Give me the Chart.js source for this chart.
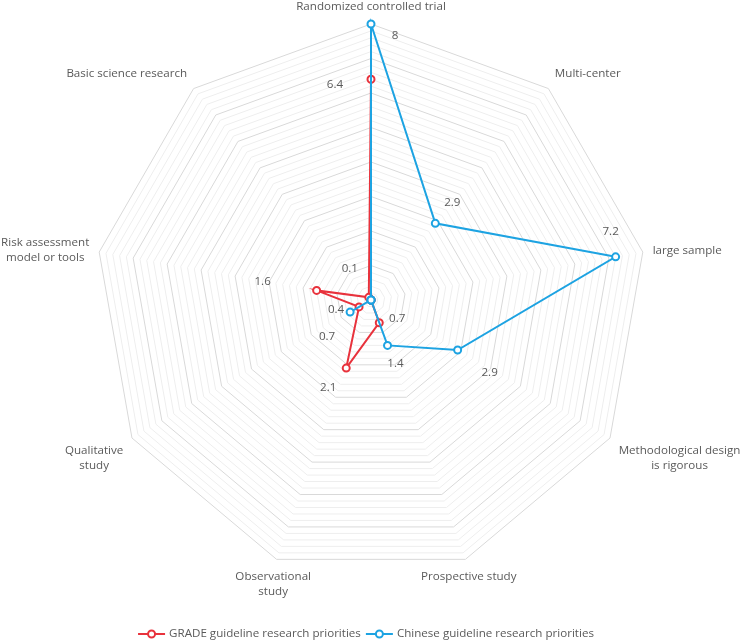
<!DOCTYPE html>
<html>
<head>
<meta charset="utf-8">
<script src="https://cdn.jsdelivr.net/npm/chart.js@4.4.0/dist/chart.umd.min.js"></script>
<style>
  html, body { margin: 0; padding: 0; background: #fff; }
</style>
</head>
<body>
<canvas id="myChart" width="750" height="642"></canvas>
<script>
// Axis names, clockwise from the top (one entry per line of text)
const categories = [
  ["Randomized controlled trial"],
  ["Multi-center"],
  ["large sample"],
  ["Methodological design", "is rigorous"],
  ["Prospective study"],
  ["Observational", "study"],
  ["Qualitative", "study"],
  ["Risk assessment", "model or tools"],
  ["Basic science research"]
];
const seriesNames = ["GRADE guideline research priorities", "Chinese guideline research priorities"];
const gradeValues = [6.4, 0, 0, 0, 0.7, 2.1, 0.4, 1.6, 0.1];
const chineseValues = [8, 2.9, 7.2, 2.9, 1.4, 0, 0.7, 0, 0];
const scaleMax = 8;
const scaleStep = 0.2;

// which points get a number next to them: [series, axis]
const labelledPoints = [
  [1, 0], [0, 0], [1, 1], [1, 2], [1, 3], [1, 4],
  [0, 4], [0, 5], [1, 6], [0, 6], [0, 7], [0, 8]
];
// where the number sits relative to its point (px)
const labelOffsets = [
  [24, 12], [-36, 5], [17, -21], [-5, -25], [32, 23], [8, 18],
  [18, -4], [-18, 20], [-23, 25], [-23, 3], [-54, -9], [-19, -29]
];

const RED = '#e8323c';
const BLUE = '#1da3e2';
const TEXT = '#5a5a5a';
const FONT = '11.6px "Open Sans", "Noto Sans", sans-serif';

// -----===== axis names around the web =====-----
const axisLabels = {
  id: 'axisLabels',
  afterDraw(chart) {
    const scale = chart.scales.r;
    const ctx = chart.ctx;
    const lineH = 15;
    ctx.save();
    ctx.font = FONT;
    ctx.fillStyle = TEXT;
    ctx.textAlign = 'center';
    ctx.textBaseline = 'middle';
    categories.forEach((lines, i) => {
      const angle = scale.getIndexAngle(i);
      const p = scale.getPointPosition(i, scale.drawingArea + 10);
      const sin = Math.sin(angle), cos = Math.cos(angle);
      const w = Math.max(...lines.map(l => ctx.measureText(l).width));
      const h = lines.length * lineH;
      let cx = p.x;
      if (Math.abs(sin) >= 0.4) cx = sin > 0 ? p.x + w / 2 : p.x - w / 2;
      let top = p.y;
      if (Math.abs(cos) < 0.3) top = p.y - h / 2;
      else if (cos > 0) top = p.y - h;
      lines.forEach((l, k) => ctx.fillText(l, cx, top + lineH * (k + 0.5)));
    });
    ctx.restore();
  }
};

// -----===== numbers beside the points =====-----
const valueLabels = {
  id: 'valueLabels',
  afterDatasetsDraw(chart) {
    const ctx = chart.ctx;
    ctx.save();
    ctx.font = FONT;
    ctx.fillStyle = TEXT;
    ctx.textAlign = 'center';
    ctx.textBaseline = 'middle';
    labelledPoints.forEach(([ds, idx], k) => {
      const pt = chart.getDatasetMeta(ds).data[idx];
      const value = chart.data.datasets[ds].data[idx];
      ctx.fillText(String(value), pt.x + labelOffsets[k][0], pt.y + labelOffsets[k][1]);
    });
    ctx.restore();
  }
};

// -----===== legend: line with a hollow circle =====-----
const lineLegend = {
  id: 'lineLegend',
  afterDraw(chart) {
    const ctx = chart.ctx;
    const markW = 27, gapIn = 4, gapOut = 5;
    ctx.save();
    ctx.font = FONT;
    const items = chart.data.datasets.map(ds => ({
      text: ds.label, color: ds.borderColor, w: ctx.measureText(ds.label).width
    }));
    const total = items.reduce((s, it) => s + markW + gapIn + it.w, 0) + gapOut * (items.length - 1);
    let x = 366 - total / 2;
    const y = 634;
    items.forEach(it => {
      ctx.strokeStyle = it.color;
      ctx.lineWidth = 2;
      ctx.beginPath();
      ctx.moveTo(x, y);
      ctx.lineTo(x + markW, y);
      ctx.stroke();
      ctx.beginPath();
      ctx.arc(x + markW / 2, y, 3.5, 0, Math.PI * 2);
      ctx.fillStyle = '#fff';
      ctx.fill();
      ctx.stroke();
      ctx.fillStyle = TEXT;
      ctx.textAlign = 'left';
      ctx.textBaseline = 'middle';
      ctx.fillText(it.text, x + markW + gapIn, y);
      x += markW + gapIn + it.w + gapOut;
    });
    ctx.restore();
  }
};

const makeDataset = (label, data, color, order) => ({
  label: label,
  data: data,
  borderColor: color,
  backgroundColor: 'rgba(0,0,0,0)',
  borderWidth: 2,
  fill: false,
  tension: 0,
  pointRadius: 3.5,
  pointBorderWidth: 2,
  pointBorderColor: color,
  pointBackgroundColor: '#fff',
  clip: false,
  order: order
});

const ctx = document.getElementById('myChart').getContext('2d');
const myChart = new Chart(ctx, {
  type: 'radar',
  data: {
    labels: categories.map(c => c.join(' ')),
    datasets: [
      makeDataset(seriesNames[0], gradeValues, RED, 1),
      makeDataset(seriesNames[1], chineseValues, BLUE, 0)
    ]
  },
  options: {
    responsive: false,
    animation: false,
    layout: { padding: { top: 24, left: 95, right: 103, bottom: 66 } },
    plugins: {
      legend: { display: false },
      tooltip: { enabled: false }
    },
    scales: {
      r: {
        min: 0,
        max: scaleMax,
        ticks: { display: false, stepSize: scaleStep },
        pointLabels: { display: false },
        angleLines: { display: false },
        grid: {
          circular: false,
          lineWidth: 1,
          color: (c) => {
            const v = c.tick ? c.tick.value : 0;
            return Math.abs(v - Math.round(v)) < 1e-6 ? '#d9d9d9' : '#eeeeee';
          }
        }
      }
    }
  },
  plugins: [axisLabels, valueLabels, lineLegend]
});
</script>
</body>
</html>
